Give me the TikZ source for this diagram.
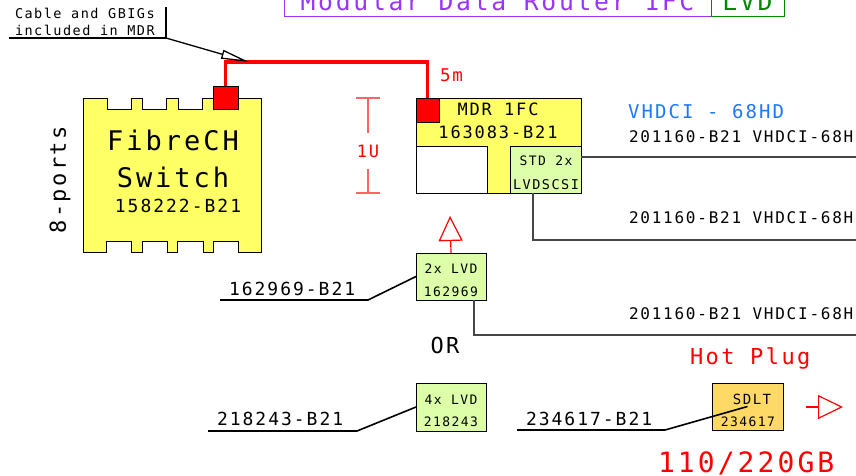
\documentclass[tikz,border=0pt]{standalone}
\usepackage{fontspec}
\setmainfont{DejaVu Sans Mono}[LetterSpace=11]
\usetikzlibrary{arrows.meta}
\definecolor{swy}{RGB}{255,255,102}
\definecolor{lgrn}{RGB}{221,255,170}
\definecolor{sdltc}{RGB}{255,217,102}
\definecolor{ttlp}{RGB}{153,51,255}
\definecolor{ttlg}{RGB}{0,136,0}
\definecolor{vblue}{RGB}{30,120,255}
\definecolor{lred}{RGB}{255,100,100}
\definecolor{conng}{RGB}{70,70,70}
\newcommand{\fsz}[1]{\fontsize{#1}{#1}\selectfont}
\tikzset{
  txt/.style={inner sep=0pt, outer sep=0pt},
  box/.style={draw=black, line width=1pt, inner sep=0pt, outer sep=0pt},
  port/.style={box, fill=red},
  conn/.style={draw=conng, line width=1.2pt},
  callout/.style={draw=black, line width=1.6pt},
  cable/.style={draw=red, line width=3.5pt},
}
\begin{document}
\begin{tikzpicture}[x=1pt,y=-1pt]
\useasboundingbox (0,0) rectangle (856,475);
\clip (0,0) rectangle (856,475);
\fill[white] (0,0) rectangle (856,475);

% title
\node[box, draw=ttlp, minimum width=427pt, minimum height=30pt, text=ttlp, font=\fsz{24.7}] (title) at (497.5,1) {Modular Data Router 1FC};
\node[box, draw=ttlg, minimum width=73pt, minimum height=30pt, text=ttlg, font=\fsz{24.7}] (lvdt) at (747.5,1) {LVD};

% fibre channel switch
\node[txt, minimum width=178pt, minimum height=154pt] (sw) at (172,175) {};
\draw[fill=swy, line width=1pt]
 (83,98)--(107,98)--(107,109)--(131,109)--(131,98)--(142,98)--(142,109)--(166,109)--(166,98)--(178,98)--(178,109)--(202,109)--(202,98)--(213,98)--(213,109)--(238,109)--(238,98)--(261,98)
 --(261,252)--(238,252)--(238,241)--(213,241)--(213,252)--(203,252)--(203,241)--(177,241)--(177,252)--(167,252)--(167,241)--(142,241)--(142,252)--(131,252)--(131,241)--(106,241)--(106,252)--(83,252)--cycle;
\node[txt, font=\fsz{27}] (swl1) at (173,140) {FibreCH};
\node[txt, font=\fsz{27}] (swl2) at (173,177) {Switch};
\node[txt, font=\fsz{18}] (swl3) at (178,206) {158222-B21};
\node[txt, font=\fsz{22}, rotate=90] (ports) at (60,180) {8-ports};

% MDR
\node[box, fill=swy, minimum width=165pt, minimum height=95pt] (mdr) at (498.5,145.5) {};
\node[box, fill=white, minimum width=71pt, minimum height=47pt] (mdrw) at (451.5,169.5) {};
\node[box, fill=lgrn, minimum width=71pt, minimum height=47pt] (std) at (545.5,169.5) {};
\node[txt, font=\fsz{17}] (mdrl1) at (498,109) {MDR 1FC};
\node[txt, font=\fsz{17}] (mdrl2) at (498,132) {163083-B21};
\node[txt, font=\fsz{13}] (stdl1) at (546,161) {STD 2x};
\node[txt, font=\fsz{13.5}] (stdl2) at (546,185) {LVDSCSI};

% ports and cable
\node[port, minimum width=25pt, minimum height=23pt] (portL) at (225.5,97.5) {};
\node[port, minimum width=23pt, minimum height=24pt] (portR) at (427.5,110) {};
\coordinate (ctop) at (427.5,62);
\draw[cable] (portL.north) |- (ctop) -- (portR.north);
\node[txt, font=\fsz{17.5}, text=red, anchor=west] (five) at (440,75) {5m};

% callout for cable
\node[txt, font=\fsz{13.5}, anchor=north west, align=left] (cnote) at (15,8) {Cable and GBIGs\\[3.5pt]included in MDR};
\coordinate (cA) at (9,38);
\coordinate (cB) at (166,38);
\coordinate (cC) at (166,7);
\coordinate (ctip) at (249,62);
\draw[callout, line width=1.3pt] (cA) -- (cB) -- (cC);
\draw[line width=1.3pt, -{Triangle[open, fill=white, length=28pt, width=9pt]}] (cB) -- (ctip);

% 1U marker
\node[txt, font=\fsz{17}, text=red, minimum height=36pt] (u1) at (368,151) {1U};
\coordinate (u1t) at (368,98);
\coordinate (u1b) at (368,193);
\draw[lred, line width=1.2pt] (u1.north) -- (u1t) ([xshift=-12pt]u1t) -- ([xshift=12pt]u1t);
\draw[lred, line width=1.2pt] (u1.south) -- (u1b) ([xshift=-12pt]u1b) -- ([xshift=12pt]u1b);

% VHDCI
\node[txt, font=\fsz{19}, text=vblue, anchor=west] (vh) at (628,112) {VHDCI - 68HD};
\node[txt, font=\fsz{16}, anchor=west] (v1) at (629,137) {201160-B21 VHDCI-68HD};
\node[txt, font=\fsz{16}, anchor=west] (v2) at (629,218) {201160-B21 VHDCI-68HD};
\node[txt, font=\fsz{16}, anchor=west] (v3) at (629,314) {201160-B21 VHDCI-68HD};
\coordinate (e1) at (860,157);
\coordinate (e2) at (860,240);
\coordinate (e3) at (860,335);
\draw[conn] (std.east |- e1) -- (e1);
\draw[conn] ([xshift=-12.5pt]std.south) |- (e2);

% LVD boxes
\node[box, fill=lgrn, minimum width=70pt, minimum height=47pt] (lvd2) at (451,276.5) {};
\node[txt, font=\fsz{13}] (lvd2a) at (451,269) {2x LVD};
\node[txt, font=\fsz{13}] (lvd2b) at (451,292) {162969};
\draw[conn] ([xshift=23pt]lvd2.south) |- (e3);
\coordinate (tri1) at (450,216);
\draw[red, line width=1.2pt, -{Triangle[open, length=25pt, width=24pt]}] (lvd2.north) -- (tri1);

\node[txt, font=\fsz{22}] (or) at (445,345) {OR};

\node[box, fill=lgrn, minimum width=70pt, minimum height=48pt] (lvd4) at (451,407) {};
\node[txt, font=\fsz{13}] (lvd4a) at (451,400) {4x LVD};
\node[txt, font=\fsz{13}] (lvd4b) at (451,422) {218243};

% SDLT
\node[box, fill=sdltc, minimum width=71pt, minimum height=47pt] (sdlt) at (747.5,406.5) {};
\node[txt, font=\fsz{14}] (sdlta) at (752,399) {SDLT};
\node[txt, font=\fsz{13}] (sdltb) at (748,422) {234617};
\node[txt, font=\fsz{22}, text=red, anchor=west] (hot) at (690,358) {Hot Plug};
\node[txt, font=\fsz{28}, text=red, anchor=west] (cap) at (658,463) {110/220GB};
\coordinate (tr0) at (806,407);
\coordinate (tr1) at (843,407);
\draw[red, line width=1.2pt, -{Triangle[open, length=25pt, width=24pt]}] (tr0) -- (tr1);

% part number callouts
\node[txt, font=\fsz{18}, anchor=west] (p1) at (229,289) {162969-B21};
\draw[callout] (220,300) coordinate (p1a) -- (368,300) coordinate (p1b) -- (lvd2.west);
\node[txt, font=\fsz{18}, anchor=west] (p2) at (217,419) {218243-B21};
\draw[callout] (208,431) coordinate (p2a) -- (357,431) coordinate (p2b) -- (lvd4.west);
\node[txt, font=\fsz{18}, anchor=west] (p3) at (526,419) {234617-B21};
\draw[callout] (517,430) coordinate (p3a) -- (665,430) coordinate (p3b) -- (sdlt.center);
\end{tikzpicture}
\end{document}
